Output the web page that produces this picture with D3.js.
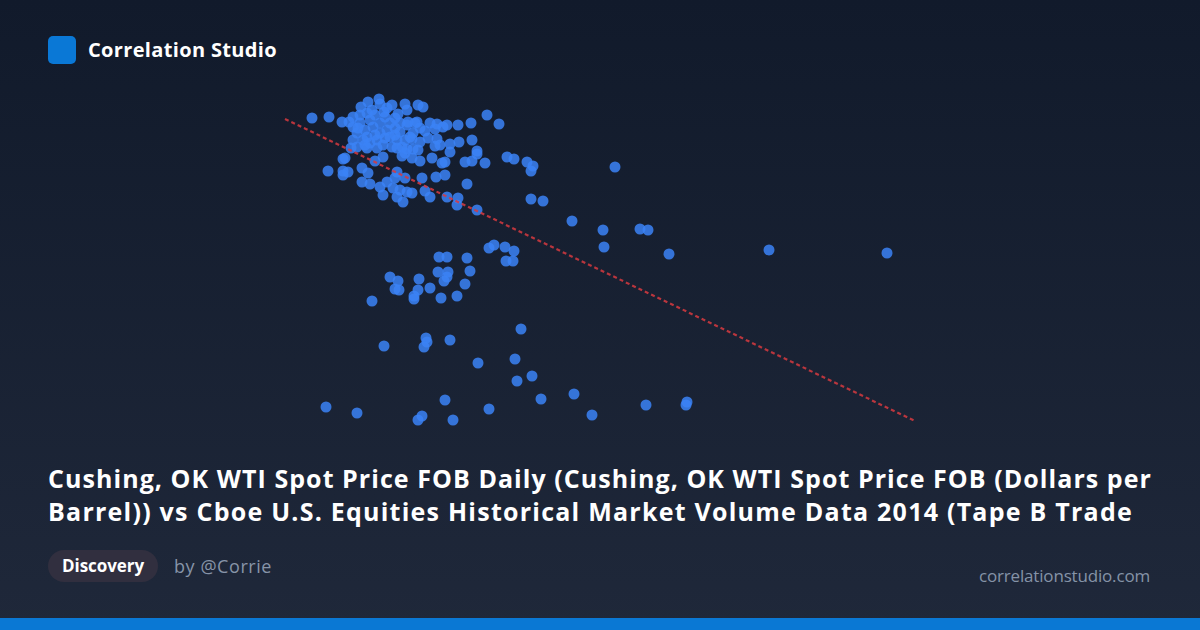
<!DOCTYPE html>
<html>
<head>
<meta charset="utf-8">
<script src="https://cdn.jsdelivr.net/npm/d3@7"></script>
<style>
  html, body { margin: 0; padding: 0; background: #121a2b; }
  svg { display: block; }
</style>
</head>
<body>
<svg id="chart" width="1200" height="630"></svg>
<script>
// WTI spot price (USD/bbl)
const price = [
  52.7,54.4,55.7,56.4,56.8,57.6,58.3,59.4,59.5,60.2,60.7,62.0,62.2,63.3,63.8,70.2,71.4,68.6,67.3,66.2,
  65.8,65.0,64.0,63.2,62.2,68.7,67.4,66.5,65.2,65.5,65.0,66.5,69.2,63.5,62.7,56.6,55.8,54.3,55.8,56.3,
  55.8,57.7,58.3,59.0,59.8,61.2,61.7,62.0,62.7,63.5,64.7,65.7,66.0,68.0,68.7,69.2,70.0,72.2,72.9,74.2,
  74.8,74.6,83.0,62.0,63.7,65.1,66.0,68.2,57.7,58.5,59.5,60.2,61.0,60.8,61.5,59.8,61.2,62.2,61.8,62.7,
  64.0,64.5,66.2,67.3,67.2,69.2,74.6,75.8,78.7,81.8,85.5,86.3,81.9,88.4,98.4,110.2,57.2,58.2,59.2,57.5,
  58.5,58.0,58.8,59.5,60.2,61.0,61.5,60.5,61.2,62.0,57.8,58.5,59.2,59.8,60.7,61.2,61.7,62.2,62.8,63.3,
  57.2,56.8,59.5,60.5,61.5,62.3,63.0,62.8,58.2,59.0,60.0,57.5,61.0,56.0,58.0,58.7,59.9,61.3,57.3,59.0,
  60.0,61.0,58.2,62.5,63.5,64.5,64.3,65.2,56.8,
  70.4,70.9,72.0,72.9,72.1,72.8,65.4,66.2,68.2,60.5,61.3,61.0,61.4,63.4,63.3,62.9,62.9,64.5,65.3,66.3,
  66.2,65.9,68.5,68.0,67.2,65.6,58.7,73.6,59.9,64.1,64.2,63.9,66.5,69.3,73.0,74.7,73.2,75.6,78.9,80.7,
  86.1,90.2,90.1,66.0,70.4,54.1,57.2,63.7,63.3,66.8
];
// Tape B trade volume (millions of shares)
const volume = [
  1024,1026,1016,1016,1026,1046,1056,1062,1052,1044,1050,1052,1040,1050,1046,1030,1012,1014,1010,1010,
  1006,1002,998,1016,1010,980,976,972,982,970,968,956,958,976,982,964,942,918,918,916,
  910,924,914,938,946,916,948,954,944,938,944,934,936,936,938,952,934,946,942,936,
  928,918,926,904,904,906,910,892,896,892,886,896,904,884,880,870,866,876,856,874,
  878,866,866,864,850,840,862,858,818,800,802,800,766,752,760,754,966,964,964,1014,
  1020,1000,1006,994,1000,1004,996,986,980,980,980,974,980,970,966,964,966,962,962,960,
  994,1006,1014,1014,1014,1016,1014,994,1034,1030,1026,1030,1024,944,970,1040,1036,1032,1004,990,
  984,990,986,986,1004,1014,984,1012,980,
  764,770,766,758,738,738,746,746,744,706,698,682,680,702,680,668,662,684,716,716,
  706,698,718,692,668,664,658,602,568,584,576,566,580,534,542,508,498,462,472,430,
  450,456,450,460,442,446,434,428,420,420
];
// Fitted trend line end points
const trendX = [50, 113];
const trendY = [1022, 418];

const titleLines = [
  "Cushing, OK WTI Spot Price FOB Daily (Cushing, OK WTI Spot Price FOB (Dollars per",
  "Barrel)) vs Cboe U.S. Equities Historical Market Volume Data 2014 (Tape B Trade"
];

const W = 1200, H = 630;
const svg = d3.select("#chart");
const FONT = "'Open Sans', 'Noto Sans', sans-serif";

// stretch text to the width it has in the reference via letter spacing
function fitWidth(sel, target) {
  const node = sel.node();
  const n = sel.text().length;
  const w = node.getComputedTextLength();
  sel.attr("letter-spacing", ((target - w) / n).toFixed(3));
  return sel;
}

const defs = svg.append("defs");
const grad = defs.append("linearGradient").attr("id", "bg").attr("x1", 0).attr("y1", 0).attr("x2", 0).attr("y2", 1);
grad.append("stop").attr("offset", "0%").attr("stop-color", "#111a2b");
grad.append("stop").attr("offset", "100%").attr("stop-color", "#1f283a");
svg.append("rect").attr("width", W).attr("height", H).attr("fill", "url(#bg)");

// header
svg.append("rect").attr("x", 48).attr("y", 36).attr("width", 28).attr("height", 28).attr("rx", 5).attr("fill", "#0a78d6");
fitWidth(svg.append("text").attr("x", 88).attr("y", 57).attr("fill", "#ffffff")
  .attr("font-family", FONT).attr("font-weight", 700).attr("font-size", 20).text("Correlation Studio"), 189);

// scales
const x = d3.scaleLinear().domain([50, 113]).range([285, 915]);
const y = d3.scaleLinear().domain([400, 1060]).range([430, 100]);

const data = price.map((p, i) => ({ p, v: volume[i] }));

svg.append("g").selectAll("circle").data(data).join("circle")
  .attr("cx", d => x(d.p)).attr("cy", d => y(d.v)).attr("r", 5.5)
  .attr("fill", "#3b82f6").attr("fill-opacity", 0.85);

const line = d3.line().x(d => x(d[0])).y(d => y(d[1]));
svg.append("path").datum(trendX.map((t, i) => [t, trendY[i]]))
  .attr("d", line).attr("fill", "none").attr("stroke", "#d63a3f").attr("stroke-opacity", 0.85)
  .attr("stroke-width", 2.2).attr("stroke-dasharray", "4,3");

// title
const titleTargets = [1104, 1085];
titleLines.forEach((t, i) => {
  const el = svg.append("text").attr("fill", "#ffffff").attr("font-family", FONT)
    .attr("font-weight", 700).attr("font-size", 25)
    .attr("x", 48).attr("y", 488 + i * 33).text(t);
  fitWidth(el, titleTargets[i]);
});

// footer
svg.append("rect").attr("x", 48).attr("y", 550).attr("width", 110).attr("height", 32).attr("rx", 16).attr("fill", "#312f3f");
fitWidth(svg.append("text").attr("x", 62).attr("y", 572).attr("fill", "#ffffff")
  .attr("font-family", FONT).attr("font-weight", 700).attr("font-size", 17).text("Discovery"), 82);
fitWidth(svg.append("text").attr("x", 174).attr("y", 573).attr("fill", "#8794a8")
  .attr("font-family", FONT).attr("font-size", 18).text("by @Corrie"), 98);
const site = svg.append("text").attr("x", 979).attr("y", 582).attr("fill", "#8593a7")
  .attr("font-family", FONT).attr("font-size", 17).text("correlationstudio.com");
fitWidth(site, 171);

svg.append("rect").attr("x", 0).attr("y", 618).attr("width", W).attr("height", 12).attr("fill", "#0a78d4");
</script>
</body>
</html>
